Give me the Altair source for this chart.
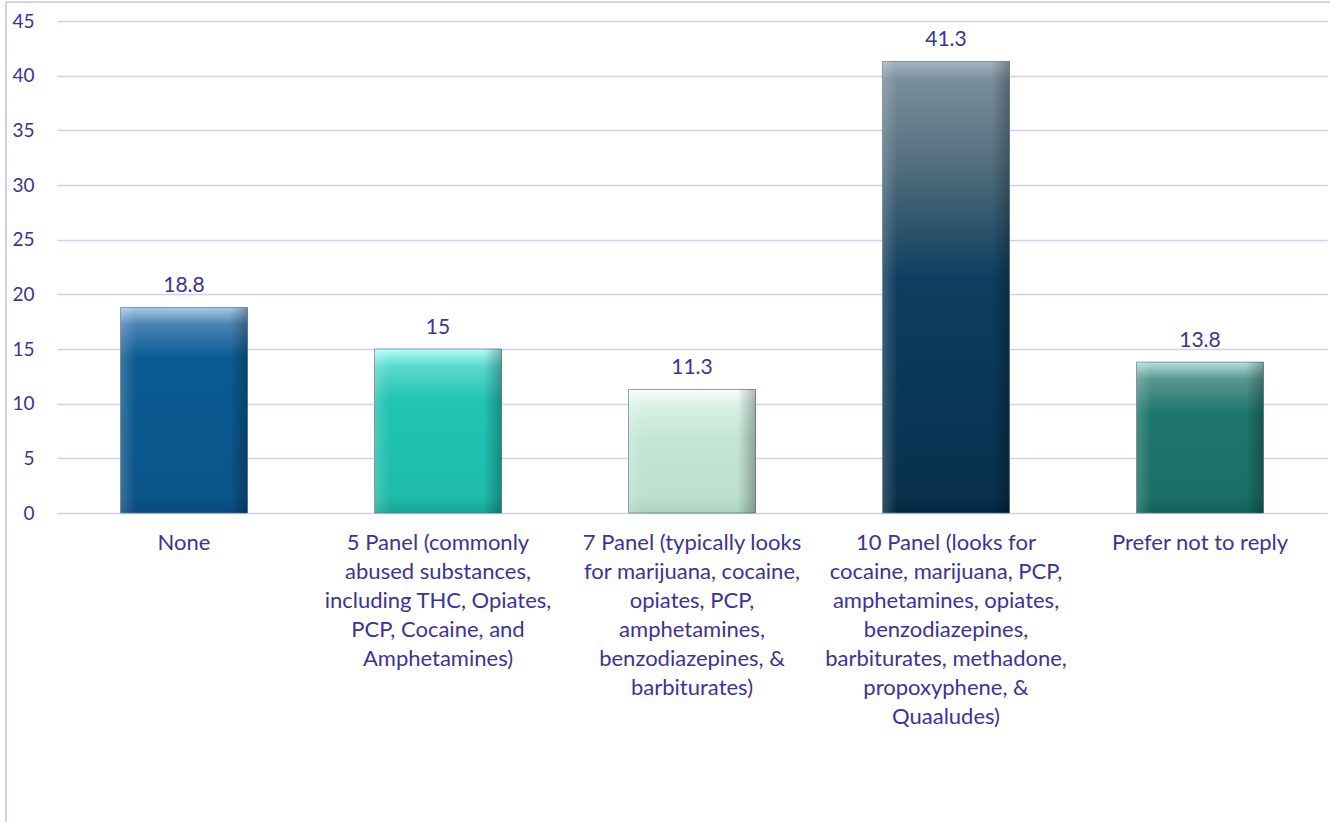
import altair as alt
import pandas as pd

# ---- data ----
categories = [
    "None",
    "5 Panel (commonly abused substances, including THC, Opiates, PCP, Cocaine, and Amphetamines)",
    "7 Panel (typically looks for marijuana, cocaine, opiates, PCP, amphetamines, benzodiazepines, & barbiturates)",
    "10 Panel (looks for cocaine, marijuana, PCP, amphetamines, opiates, benzodiazepines, barbiturates, methadone, propoxyphene, & Quaaludes)",
    "Prefer not to reply",
]
label_lines = [
    ["None"],
    ["5 Panel (commonly", "abused substances,", "including THC, Opiates,", "PCP, Cocaine, and", "Amphetamines)"],
    ["7 Panel (typically looks", "for marijuana, cocaine,", "opiates, PCP,", "amphetamines,", "benzodiazepines, &", "barbiturates)"],
    ["10 Panel (looks for", "cocaine, marijuana, PCP,", "amphetamines, opiates,", "benzodiazepines,", "barbiturates, methadone,", "propoxyphene, &", "Quaaludes)"],
    ["Prefer not to reply"],
]
values = [18.8, 15, 11.3, 41.3, 13.8]
value_labels = ["18.8", "15", "11.3", "41.3", "13.8"]
y_ticks = [0, 5, 10, 15, 20, 25, 30, 35, 40, 45]

# ---- styling ----
TEXT = "#3b3399"
GRID = "#d3cff0"
FONT = "Lato"
W, H = 1270, 492
px_per_unit = H / 45.0

# gradient stops (offset in px from top for bevel stops, colors)
palettes = [
    [(0, "#a9cbe8"), ("b", "#4a83b2"), ("3b", "#0b5b93"), ("-b", "#0a5489"), (1, "#08497a")],
    [(0, "#b4fffb"), ("b", "#5cd9cd"), ("3b", "#22c4b4"), ("-b", "#1fbcac"), (1, "#17a595")],
    [(0, "#f7fffb"), ("b", "#d9f1e5"), ("3b", "#c3e5d5"), ("-b", "#bde0cf"), (1, "#aed1bf")],
    [(0, "#a5b5bf"), (0.04, "#7a8e9d"), (0.22, "#55707f"), (0.48, "#0e3e5f"), (0.96, "#08304e"), (1, "#05263f")],
    [(0, "#b2e3dd"), ("b", "#589890"), ("3b", "#1e766d"), ("-b", "#1a7067"), (1, "#116058")],
]

joined = ["|".join(l) for l in label_lines]
df = pd.DataFrame({"cat": categories, "label": joined, "value": values, "text": value_labels})

xenc = alt.X(
    "label:N",
    scale=alt.Scale(domain=joined, paddingInner=0.5, paddingOuter=0.25),
    axis=alt.Axis(
        title=None, labelExpr="split(datum.label, '|')", labelAngle=0,
        labelColor=TEXT, labelFont=FONT, labelFontSize=22, labelLineHeight=29,
        labelPadding=19, domain=False, ticks=False, labelLimit=400,
    ),
)
yenc = alt.Y(
    "value:Q",
    scale=alt.Scale(domain=[0, 45], nice=False),
    axis=alt.Axis(
        title=None, values=y_ticks, labelColor=TEXT, labelFont=FONT, labelFontSize=19,
        labelPadding=23, domain=False, ticks=False, gridColor=GRID, gridWidth=1.5,
    ),
)

layers = []
for i, c in enumerate(categories):
    hpx = values[i] * px_per_unit
    b = min(0.3, 17.0 / hpx)
    stops = []
    for off, col in palettes[i]:
        if off == "b":
            off = b
        elif off == "3b":
            off = min(0.5, 3 * b)
        elif off == "-b":
            off = 1 - b
        stops.append(alt.GradientStop(offset=off, color=col))
    grad = alt.Gradient(gradient="linear", x1=0, x2=0, y1=0, y2=1, stops=stops)
    layers.append(
        alt.Chart(df).transform_filter(alt.datum.cat == c)
        .mark_bar(color=grad, stroke="#5f7278", strokeWidth=1, strokeOpacity=0.7)
        .encode(x=xenc, y=yenc)
    )

side = alt.Gradient(
    gradient="linear", x1=0, x2=1, y1=0, y2=0,
    stops=[
        alt.GradientStop(offset=0, color="rgba(255,255,255,0.18)"),
        alt.GradientStop(offset=0.12, color="rgba(255,255,255,0)"),
        alt.GradientStop(offset=0.86, color="rgba(0,0,0,0)"),
        alt.GradientStop(offset=1, color="rgba(0,0,0,0.28)"),
    ],
)
layers.append(alt.Chart(df).mark_bar(color=side).encode(x=xenc, y=yenc))

layers.append(
    alt.Chart(df).mark_text(color=TEXT, font=FONT, fontSize=21, dy=-21, baseline="middle")
    .encode(x=xenc, y=yenc, text="text:N")
)

frame_left = alt.Chart(df).mark_rule(color=GRID, strokeWidth=2).encode(
    x=alt.value(-51), y=alt.value(-19), y2=alt.value(801))
frame_top = alt.Chart(df).mark_rule(color=GRID, strokeWidth=2).encode(
    x=alt.value(-51), x2=alt.value(1273), y=alt.value(-19))

chart = alt.layer(*layers, frame_left, frame_top).properties(
    width=W, height=H,
    autosize=alt.AutoSizeParams(type="none"),
    padding={"left": 57, "top": 21, "right": 3, "bottom": 309},
    background="white",
).configure_view(stroke=None)

chart.save("out.html", embed_options={"renderer": "svg", "actions": False})
